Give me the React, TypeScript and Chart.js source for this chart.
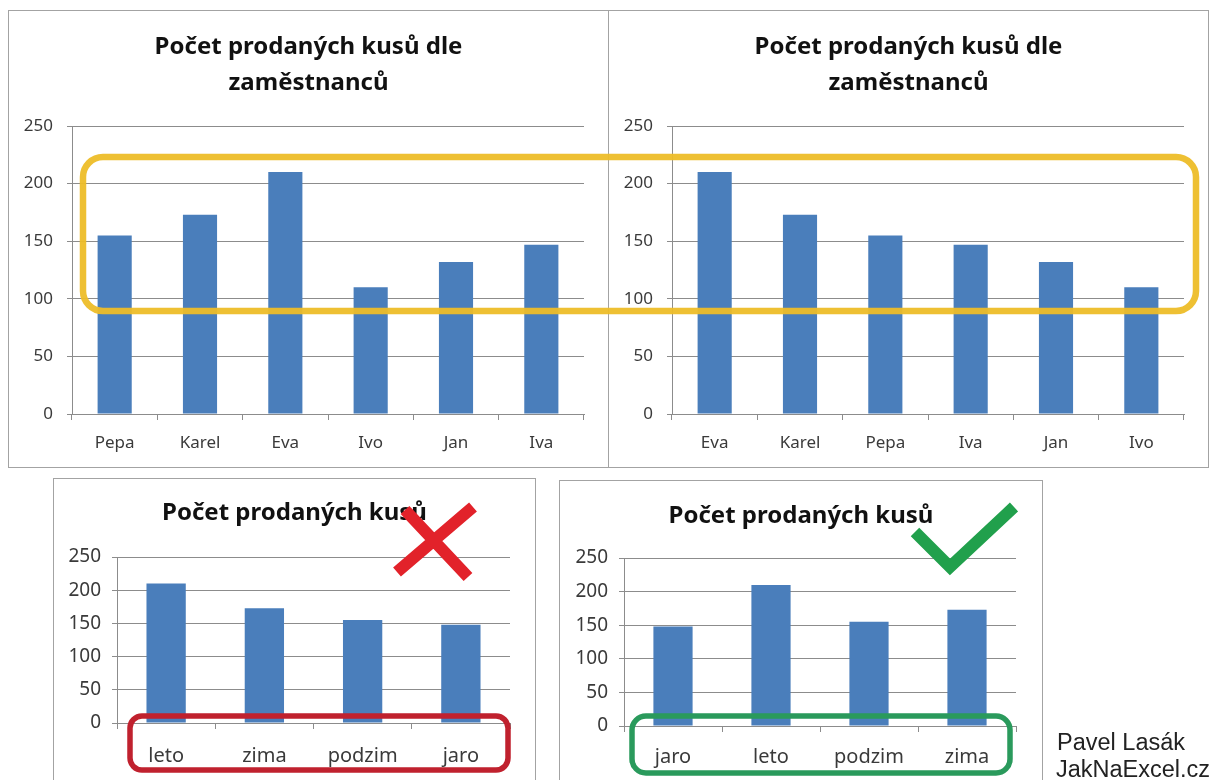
import React, { useEffect, useRef } from 'react';
import { Chart, registerables } from 'chart.js';

Chart.register(...registerables);

// ---- data ----
const titleEmployees = ['Počet prodaných kusů dle', 'zaměstnanců'];
const titleSeasons = 'Počet prodaných kusů';

const employeesOriginal = ['Pepa', 'Karel', 'Eva', 'Ivo', 'Jan', 'Iva'];
const salesOriginal = [155, 173, 210, 110, 132, 147];

const employeesSorted = ['Eva', 'Karel', 'Pepa', 'Iva', 'Jan', 'Ivo'];
const salesSorted = [210, 173, 155, 147, 132, 110];

const seasonsBySales = ['leto', 'zima', 'podzim', 'jaro'];
const seasonSalesBySales = [210, 173, 155, 148];

const seasonsAlpha = ['jaro', 'leto', 'podzim', 'zima'];
const seasonSalesAlpha = [148, 210, 155, 173];

const yMin = 0;
const yMax = 250;
const yStep = 50;

// ---- styles ----
const BAR = '#4a7ebb';
const GRID = '#8c8c8c';
const TXT = '#3a3a3a';
const FONT = 'Noto Sans';

type PanelCfg = {
  left: number; top: number; width: number; height: number;
  labels: string[]; values: number[]; title: string | string[];
  titleTop: number; titleBottom: number;
  yW: number; rW: number; xH: number;
  xFont: number; yFont: number; xPad: number; yPad: number;
};

function Panel({ cfg }: { cfg: PanelCfg }) {
  const ref = useRef<HTMLCanvasElement>(null);
  useEffect(() => {
    const chart = new Chart(ref.current as HTMLCanvasElement, {
      type: 'bar',
      data: {
        labels: cfg.labels,
        datasets: [{
          data: cfg.values,
          backgroundColor: BAR,
          borderWidth: 0,
          barPercentage: 0.4,
          categoryPercentage: 1,
        }],
      },
      options: {
        responsive: false,
        maintainAspectRatio: false,
        animation: false,
        layout: { padding: 0 },
        plugins: {
          legend: { display: false },
          tooltip: { enabled: false },
          title: {
            display: true,
            text: cfg.title,
            color: '#111',
            font: { family: FONT, size: 24, weight: 'bold', lineHeight: 1.5 },
            padding: { top: cfg.titleTop, bottom: cfg.titleBottom },
          },
        },
        scales: {
          x: {
            grid: { display: true, drawOnChartArea: false, drawTicks: true, tickLength: 6, color: GRID, offset: true },
            border: { display: true, color: GRID },
            ticks: { font: { family: FONT, size: cfg.xFont }, color: TXT, padding: cfg.xPad, maxRotation: 0, autoSkip: false },
            afterFit: (s: any) => { s.height = cfg.xH; },
          },
          y: {
            min: yMin,
            max: yMax,
            ticks: { stepSize: yStep, font: { family: FONT, size: cfg.yFont }, color: TXT, padding: cfg.yPad },
            grid: { color: GRID, tickLength: 5, drawTicks: true },
            border: { display: true, color: GRID },
            afterFit: (s: any) => { s.width = cfg.yW; },
          },
          pad: {
            type: 'linear',
            position: 'right',
            display: true,
            grid: { display: false },
            ticks: { display: false },
            border: { display: false },
            afterFit: (s: any) => { s.width = cfg.rW; },
          },
        },
      } as any,
    });
    return () => chart.destroy();
  }, []);
  return (
    <div style={{
      position: 'absolute', left: cfg.left, top: cfg.top, width: cfg.width, height: cfg.height,
      border: '1px solid #a3a3a3', boxSizing: 'border-box', background: '#fff',
    }}>
      <canvas ref={ref} width={cfg.width - 2} height={cfg.height - 2} style={{ display: 'block' }} />
    </div>
  );
}

const panels: PanelCfg[] = [
  {
    left: 8, top: 10, width: 601, height: 458,
    labels: employeesOriginal, values: salesOriginal, title: titleEmployees,
    titleTop: 18, titleBottom: 25, yW: 63, rW: 24, xH: 53,
    xFont: 17, yFont: 17, xPad: 13, yPad: 14,
  },
  {
    left: 608, top: 10, width: 601, height: 458,
    labels: employeesSorted, values: salesSorted, title: titleEmployees,
    titleTop: 18, titleBottom: 25, yW: 63, rW: 24, xH: 53,
    xFont: 17, yFont: 17, xPad: 13, yPad: 14,
  },
  {
    left: 53, top: 478, width: 483, height: 310,
    labels: seasonsBySales, values: seasonSalesBySales, title: titleSeasons,
    titleTop: 16, titleBottom: 26, yW: 63, rW: 25, xH: 64,
    xFont: 20, yFont: 19, xPad: 15, yPad: 11,
  },
  {
    left: 559, top: 480, width: 484, height: 310,
    labels: seasonsAlpha, values: seasonSalesAlpha, title: titleSeasons,
    titleTop: 17, titleBottom: 24, yW: 64, rW: 26, xH: 63,
    xFont: 20, yFont: 19, xPad: 13, yPad: 11,
  },
];

export default function App() {
  return (
    <div style={{ position: 'absolute', left: 0, top: 0, width: 1213, height: 780, overflow: 'hidden', background: '#fff' }}>
      {panels.map((p, i) => <Panel key={i} cfg={p} />)}
      <svg width={1213} height={780} style={{ position: 'absolute', left: 0, top: 0, pointerEvents: 'none' }}>
        <rect x={83} y={157} width={1113} height={154} rx={20} fill="none" stroke="#edbd28" strokeWidth={6.5} opacity={0.95} />
        <rect x={130} y={716} width={378} height={54} rx={12} fill="none" stroke="#c0212e" strokeWidth={5.5} />
        <rect x={632} y={716} width={378} height={57} rx={14} fill="none" stroke="#2a9a5c" strokeWidth={5.5} />
        <path d="M405 510 L468 577 M473 507 L397 572" stroke="#e2222a" strokeWidth={12} fill="none" />
        <path d="M915 532 L950 567 L1014 507" stroke="#21a04c" strokeWidth={12} fill="none" strokeLinejoin="miter" />
        <text x={1057} y={750} fontFamily="Liberation Sans, Arial, sans-serif" fontSize={23.5} fill="#222">Pavel Lasák</text>
        <text x={1056} y={777} fontFamily="Liberation Sans, Arial, sans-serif" fontSize={23.5} fill="#222">JakNaExcel.cz</text>
      </svg>
    </div>
  );
}
